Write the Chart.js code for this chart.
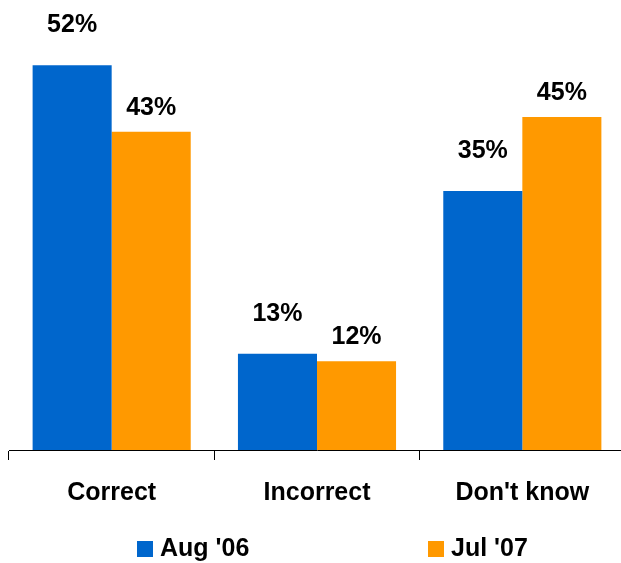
<!DOCTYPE html>
<html>
<head>
<meta charset="utf-8">
<script src="https://cdn.jsdelivr.net/npm/chart.js@4/dist/chart.umd.min.js"></script>
<style>
  html, body { margin: 0; padding: 0; background: #fff; overflow: hidden; }
  #wrap { width: 640px; height: 563px; }
</style>
</head>
<body>
<div id="wrap"><canvas id="chart"></canvas></div>
<script>
const categories = ["Correct", "Incorrect", "Don't know"];
const seriesNames = ["Aug '06", "Jul '07"];
const aug06 = [52, 13, 35];
const jul07 = [43, 12, 45];

const FONT = "'Liberation Sans', Arial, sans-serif";

// value labels above each bar, offset differs per series as in the original
const valueLabels = {
  id: "valueLabels",
  afterDatasetsDraw(chart) {
    const ctx = chart.ctx;
    const offsets = [40, 24];
    ctx.save();
    ctx.font = "bold 25px " + FONT;
    ctx.fillStyle = "#000";
    ctx.textAlign = "center";
    ctx.textBaseline = "middle";
    chart.data.datasets.forEach((ds, i) => {
      chart.getDatasetMeta(i).data.forEach((bar, j) => {
        ctx.fillText(ds.data[j] + "%", bar.x, bar.y - offsets[i]);
      });
    });
    ctx.restore();
  },
};

// legend drawn manually so the two entries sit where they do in the original
const spreadLegend = {
  id: "spreadLegend",
  afterDraw(chart) {
    const ctx = chart.ctx;
    const xs = [137, 428];
    const y = 541;
    ctx.save();
    ctx.font = "bold 25px " + FONT;
    ctx.textBaseline = "middle";
    ctx.textAlign = "left";
    chart.data.datasets.forEach((ds, i) => {
      ctx.fillStyle = ds.backgroundColor;
      ctx.fillRect(xs[i], y, 16, 16);
      ctx.fillStyle = "#000";
      ctx.fillText(ds.label, xs[i] + 23, y + 8.5);
    });
    ctx.restore();
  },
};

new Chart(document.getElementById("chart"), {
  type: "bar",
  data: {
    labels: categories,
    datasets: [
      { label: seriesNames[0], data: aug06, backgroundColor: "#0066CC" },
      { label: seriesNames[1], data: jul07, backgroundColor: "#FF9900" },
    ],
  },
  options: {
    responsive: true,
    maintainAspectRatio: false,
    animation: false,
    categoryPercentage: 0.77,
    barPercentage: 1,
    layout: { padding: { left: 9, right: 15, top: 6, bottom: 37 } },
    scales: {
      x: {
        offset: true,
        border: { color: "#000", width: 1 },
        grid: {
          drawOnChartArea: false,
          drawTicks: true,
          tickLength: 10,
          tickColor: "#000",
          offset: true,
        },
        ticks: {
          color: "#000",
          padding: 18,
          font: { family: FONT, size: 25, weight: "bold" },
        },
      },
      y: { display: false, min: 0, max: 60 },
    },
    plugins: {
      legend: { display: false },
      tooltip: { enabled: false },
    },
  },
  plugins: [valueLabels, spreadLegend],
});
</script>
</body>
</html>
